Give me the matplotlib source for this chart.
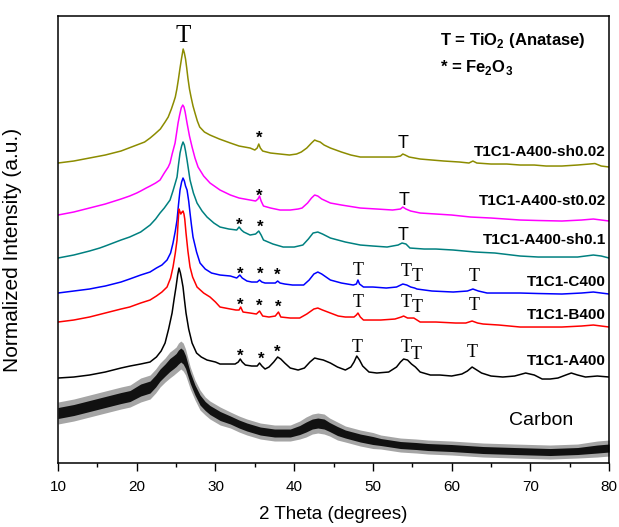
import matplotlib
matplotlib.use("Agg")
import matplotlib.pyplot as plt
from matplotlib.ticker import MultipleLocator

plt.rcParams["font.family"] = ["Liberation Sans", "DejaVu Sans"]
plt.rcParams["mathtext.fontset"] = "custom"
plt.rcParams["mathtext.rm"] = "Liberation Sans"
plt.rcParams["mathtext.bf"] = "Liberation Sans:bold"

# XRD patterns, stacked (normalized intensity with vertical offsets, a.u.)
sh002_theta = [10, 11, 12, 13, 14, 15, 16, 17, 18, 19, 20, 21, 21.7, 22.3, 23.0, 23.6, 24.0,
               24.4, 24.7, 24.9, 25.1, 25.3, 25.5, 25.7, 25.9, 26.05, 26.2, 26.35, 26.5,
               26.7, 26.9, 27.15, 27.4, 27.7, 28.0, 28.6, 29.3, 30.5, 31.9, 33.0, 34.4,
               35.0, 35.3, 35.5, 35.7, 36.0, 37.0, 38.2, 39.4, 40.3, 40.9, 41.6, 42.2,
               42.6, 42.9, 43.3, 43.8, 44.6, 45.3, 46.0, 47.2, 48.4, 50.0, 51.5, 52.8,
               53.5, 53.8, 54.1, 54.6, 56.0, 57.5, 59.0, 61.0, 62.2, 62.7, 63.2, 65.0,
               67.0, 68.7, 70.5, 72.0, 74.0, 76.0, 77.5, 78.2, 79.0, 80.0]
sh002_int = [300, 301, 302, 303.5, 305, 306.5, 308, 310, 312, 315, 318, 321, 325, 329, 334,
             341, 346, 354, 361, 366, 374, 384, 395, 405, 414, 410, 404, 395, 385,
             374, 366, 357, 350, 342, 336, 331, 328, 324, 320, 317, 315,
             313, 315, 319, 315, 312, 310, 309, 308, 309, 311, 315, 320,
             323, 322, 321, 318, 315, 313, 311, 308, 306, 306, 306, 306,
             307, 309, 308, 306, 304, 303, 302, 301, 300, 302, 300, 299,
             299, 298, 298, 297, 297, 298, 299, 299.5, 297, 296]

st002_theta = [10, 11, 12, 13, 14, 15, 16, 17, 18, 19.1, 20, 20.5, 21.2, 21.7, 22.4, 22.96,
               23.5, 24.0, 24.23, 24.5, 24.87, 25.1, 25.25, 25.45, 25.65, 25.85, 26.0,
               26.15, 26.39, 26.7, 27.03, 27.4, 27.79, 28.5, 29.31, 30.58, 31.9, 33.0,
               34.4, 35.1, 35.4, 35.6, 35.8, 36.1, 37.0, 38.2, 39.5, 40.5, 41.0, 41.7,
               42.2, 42.6, 43.0, 43.5, 44.6, 46.0, 48.4, 50.5, 52.5, 53.5, 53.8, 54.2,
               54.8, 56.0, 58.0, 60.0, 62.4, 65.0, 68.7, 71.0, 74.0, 76.5, 78.0, 79.0, 80.0]
st002_int = [248, 249.5, 251, 253, 255, 257, 259, 261.5, 264, 267, 270, 272, 275, 277, 280,
             283, 290, 296, 300, 309, 320, 332, 340, 348, 355, 358, 356,
             351, 340, 327, 316, 305, 296, 287, 280, 273, 268, 265,
             263, 262, 264, 267, 262, 257, 255, 253, 253, 254, 255, 260,
             265, 268, 267, 264, 260, 258, 255, 254, 253, 254, 256, 254,
             252, 250, 249, 248, 246, 245, 243, 242.5, 242, 243, 244, 243, 242]

sh01_theta = [10, 11, 12, 13, 14, 15.3, 16, 17, 18, 19.1, 20.5, 21.7, 22.4, 22.96, 23.5,
              24.23, 24.6, 24.9, 25.12, 25.3, 25.5, 25.7, 25.88, 26.05, 26.2, 26.39, 26.6,
              26.77, 27.2, 27.66, 28.3, 28.93, 29.8, 30.58, 31.7, 32.7, 33.0, 33.3, 33.6,
              34.4, 35.1, 35.5, 35.8, 36.1, 37.3, 38.6, 40.0, 41.1, 41.8, 42.4, 43.0,
              43.6, 44.6, 46.5, 48.4, 50.0, 51.8, 53.2, 53.7, 54.2, 54.7, 56.5, 58.0,
              60.2, 63.0, 65.5, 68.7, 71.0, 74.0, 76.0, 78.0, 79.0, 80.0]
sh01_int = [205, 206.5, 208, 210, 212, 215, 217, 220, 223, 226, 231, 238, 244, 250, 255,
            263, 272, 280, 286, 298, 310, 317, 321, 318, 312, 303, 292,
            283, 270, 260, 252, 246, 240, 236, 234, 233, 236, 233, 231,
            228, 229, 232, 228, 223, 219, 216, 216, 218, 224, 230, 231,
            229, 225, 221, 218, 217, 216, 218, 220, 219, 215, 214, 214,
            213, 211, 210, 207, 206, 206, 206, 208, 207, 205]

c400_theta = [10, 11, 12, 13, 14, 15.3, 16, 17, 18, 19.1, 20.5, 21.69, 22.5, 23.2, 23.85,
              24.3, 24.61, 24.9, 25.12, 25.3, 25.5, 25.7, 25.88, 26.05, 26.2, 26.39, 26.6,
              26.77, 26.95, 27.15, 27.6, 28.04, 28.7, 29.5, 30.58, 31.9, 32.7, 33.1, 33.4,
              34.0, 34.6, 35.3, 35.6, 35.9, 36.3, 37.0, 37.6, 37.9, 38.2, 38.8, 39.8,
              41.2, 41.9, 42.5, 43.0, 43.5, 44.6, 46.0, 47.5, 47.9, 48.1, 48.3, 48.8,
              50.0, 51.7, 53.0, 53.8, 54.3, 54.8, 55.3, 55.6, 57.5, 60.2, 62.0, 62.7,
              63.4, 64.5, 66.5, 68.7, 71.0, 74.0, 76.5, 78.0, 79.0, 80.0]
c400_int = [170, 171, 172, 173, 174, 176, 177, 179, 181, 184, 188, 191, 195, 198, 203,
            210, 220, 232, 243, 258, 273, 281, 285, 282, 277, 273, 262,
            250, 238, 226, 211, 200, 194, 190, 188, 187, 185, 188, 185,
            182, 181, 181, 183, 181, 180, 180, 180, 182, 180, 179, 178,
            178, 183, 189, 191, 189, 183, 180, 178, 179, 183, 179, 176,
            176, 175, 176, 179, 178, 176, 175, 174, 172, 171, 172, 174,
            172, 170, 170, 170, 169.5, 169, 170, 171, 170, 169]

b400_theta = [10, 11, 12, 13, 14, 15, 16, 17, 18, 19.1, 20.5, 21.69, 22.5, 23.2, 23.85,
              24.3, 24.61, 24.9, 25.12, 25.25, 25.37, 25.5, 25.6, 25.75, 25.88, 26.0, 26.1,
              26.26, 26.5, 26.77, 27.1, 27.66, 28.5, 29.31, 30.0, 30.58, 31.9, 32.6, 33.0,
              33.2, 33.5, 34.4, 35.2, 35.6, 36.0, 36.8, 37.6, 38.0, 38.3, 39.5, 40.7,
              41.6, 42.5, 43.0, 43.6, 44.6, 45.6, 46.5, 47.6, 47.9, 48.1, 48.4, 48.8,
              51.0, 52.8, 53.6, 53.9, 54.4, 54.8, 55.2, 56.0, 58.0, 60.5, 61.8, 62.6,
              63.3, 64.0, 66.0, 68.7, 71.0, 74.0, 76.5, 78.0, 79.0, 80.0]
b400_int = [141, 142, 143, 144.5, 146, 148, 150, 152, 154, 156, 160, 163, 167, 171, 176,
            185, 196, 210, 223, 240, 254, 251, 249, 251, 252, 249, 244,
            230, 212, 196, 186, 176, 170, 166, 161, 156, 154, 153, 153,
            156, 151, 150, 149, 152, 147, 146, 147, 151, 146, 145, 145,
            149, 154, 155, 153, 150, 147, 146, 146, 148, 150, 146, 143,
            143, 144, 146, 147, 145, 145, 145, 141, 141, 140, 140, 142,
            140, 139, 138, 136, 136, 136, 137, 138, 137, 136]

a400_theta = [10, 11, 12, 13, 14, 15, 16, 17, 18, 19.15, 20.5, 21.69, 22.5, 23.1, 23.6,
              24.05, 24.49, 24.75, 24.99, 25.2, 25.37, 25.55, 25.7, 25.88, 26.05, 26.26,
              26.6, 27.03, 27.6, 28.2, 28.93, 30.0, 30.58, 31.5, 32.5, 32.9, 33.15, 33.4,
              33.8, 34.6, 35.3, 35.6, 35.9, 36.3, 36.8, 37.4, 37.9, 38.3, 38.8, 39.5,
              40.5, 41.3, 42.0, 42.6, 43.1, 43.7, 44.6, 45.5, 46.5, 47.2, 47.6, 47.95,
              48.3, 48.7, 49.5, 50.5, 52.0, 53.0, 53.5, 53.9, 54.4, 54.9, 55.4, 56.0,
              57.3, 58.5, 60.0, 61.3, 62.0, 62.6, 63.2, 63.8, 65.0, 66.5, 68.0, 69.4,
              70.5, 71.5, 72.5, 73.5, 74.5, 75.2, 76.0, 77.0, 78.5, 80.0]
a400_int = [85, 85.5, 86, 87, 88, 89.5, 91, 93, 95, 97, 99, 101, 106, 112, 120,
            134, 150, 164, 176, 188, 195, 190, 184, 176, 164, 150,
            134, 120, 110, 106, 103, 101, 99, 99, 99, 101, 104, 101,
            98, 97, 97, 100, 97, 94, 96, 101, 106, 104, 100, 95,
            93, 95, 101, 105, 104, 103, 100, 96, 93, 96, 101, 107,
            103, 97, 91, 90, 91, 96, 101, 104, 103, 99, 96, 91,
            88, 88, 87, 89, 92, 96, 93, 90, 87, 86, 87, 90,
            88, 84, 84, 85, 88, 90, 88, 86, 87, 86]

# carbon: mean level and half-width of the noise band
carbon_theta = [10, 11, 12, 13, 14, 15, 16, 17, 18, 19.15, 20.5, 21.69, 22.4, 22.96, 23.6,
                24.2, 24.7, 25.0, 25.3, 25.6, 25.9, 26.2, 26.5, 26.8, 27.4, 28.04, 28.7,
                29.3, 30.6, 31.9, 33.0, 34.0, 35.7, 37.5, 39.5, 40.7, 41.5, 42.3, 43.0,
                43.8, 44.5, 45.5, 46.5, 48.4, 50.0, 51.0, 53.5, 55.5, 57.0, 60.0, 64.0,
                68.0, 72.5, 76.0, 78.5, 80.0]
carbon_int = [50, 51.5, 53, 55, 57, 59, 61, 63, 65, 67, 73, 76, 82, 88, 93,
              98, 101, 103, 106, 108, 106, 101, 93, 85, 73, 63, 57,
              53, 47, 43, 39, 36, 32, 30, 30, 33, 36, 39, 40,
              39, 36, 32, 29, 25, 22.5, 21, 18, 17, 16, 15, 13,
              12, 11, 12, 14, 15]
carbon_noise = [11, 11, 11, 11, 11, 11, 11, 11, 11, 11, 12, 12, 12, 12, 12,
                13, 13, 13, 14, 14, 14, 13, 12, 11, 10, 10, 9,
                9, 9, 8, 8, 8, 8, 8, 8, 9, 10, 10, 10,
                10, 9, 9, 8, 8, 8, 7, 7, 7, 7, 7, 7,
                7, 7, 7, 8, 8]

sample_names = ["T1C1-A400-sh0.02", "T1C1-A400-st0.02", "T1C1-A400-sh0.1",
                "T1C1-C400", "T1C1-B400", "T1C1-A400"]
sample_colors = ["#8c8c00", "#ff00ff", "#008080", "#0000ff", "#ff0000", "#000000"]
name_y = [307, 258, 219, 177, 144, 98]

# peak markers (2theta, text baseline)
anatase_sans_theta = [53.8, 53.9, 53.8]
anatase_sans_y = [315, 258, 223]
anatase_theta = [48.1, 54.2, 55.6, 62.9,
                 48.1, 54.2, 55.6, 62.9,
                 48.0, 54.2, 55.5, 62.6]
anatase_y = [188, 187, 182, 182,
             156, 156, 151, 153,
             111, 111, 104, 106]
fe_theta = [35.5, 35.6, 33.0, 35.7, 33.2, 35.7, 37.9, 33.2, 35.5, 38.0, 33.2, 35.8, 37.9]
fe_y = [320, 262, 233, 231, 184, 184, 183, 153, 152, 151, 102, 99, 106]

fig = plt.figure(figsize=(6.19, 5.27), dpi=100)
ax = fig.add_axes([0.0937, 0.1214, 0.8903, 0.8482])

traces = [(sh002_theta, sh002_int), (st002_theta, st002_int), (sh01_theta, sh01_int),
          (c400_theta, c400_int), (b400_theta, b400_int), (a400_theta, a400_int)]
for (tt, ii), col in zip(traces, sample_colors):
    ax.plot(tt, ii, color=col, lw=1.1)

# carbon: grey outer fringe, black noisy core
lo = [c - n for c, n in zip(carbon_int, carbon_noise)]
hi = [c + n for c, n in zip(carbon_int, carbon_noise)]
ax.fill_between(carbon_theta, lo, hi, color="#a5a5a5", lw=0)
lo2 = [c - 0.5 * n for c, n in zip(carbon_int, carbon_noise)]
hi2 = [c + 0.5 * n for c, n in zip(carbon_int, carbon_noise)]
ax.fill_between(carbon_theta, lo2, hi2, color="#111111", lw=0)

for name, y in zip(sample_names, name_y):
    ax.text(79.6, y, name, ha="right", va="baseline", fontsize=11, fontweight="bold")
ax.text(71.4, 38, "Carbon", ha="center", va="baseline", fontsize=14)

ax.text(25.9, 421, "T", ha="center", va="baseline", fontsize=18, family="Liberation Serif")
for t, y in zip(anatase_sans_theta, anatase_sans_y):
    ax.text(t, y, "T", ha="center", va="baseline", fontsize=13)
for t, y in zip(anatase_theta, anatase_y):
    ax.text(t, y, "T", ha="center", va="baseline", fontsize=13, family="Liberation Serif")
for t, y in zip(fe_theta, fe_y):
    ax.text(t, y, "*", ha="center", va="baseline", fontsize=12, fontweight="bold")

ax.text(58.5, 418, r"T = TiO$_\mathbf{2}$ (Anatase)", fontsize=12, fontweight="bold",
        va="baseline")
ax.text(58.5, 391, r"* = Fe$_\mathbf{2}$O$_\mathbf{3}$", fontsize=12, fontweight="bold",
        va="baseline")

ax.set_xlim(10, 80)
ax.set_ylim(0, 447)
ax.set_yticks([])
ax.xaxis.set_major_locator(MultipleLocator(10))
ax.xaxis.set_minor_locator(MultipleLocator(5))
ax.tick_params(axis="x", which="major", direction="out", length=6, width=1.0,
               labelsize=11, pad=6)
ax.tick_params(axis="x", which="minor", direction="out", length=3, width=1.0)
for sp in ax.spines.values():
    sp.set_linewidth(1.1)
ax.set_xlabel("2 Theta (degrees)", fontsize=13.5, labelpad=9)
ax.set_ylabel("Normalized Intensity (a.u.)", fontsize=15)
ax.yaxis.set_label_coords(-0.065, 0.476)

fig.savefig("out.png", dpi=100)
